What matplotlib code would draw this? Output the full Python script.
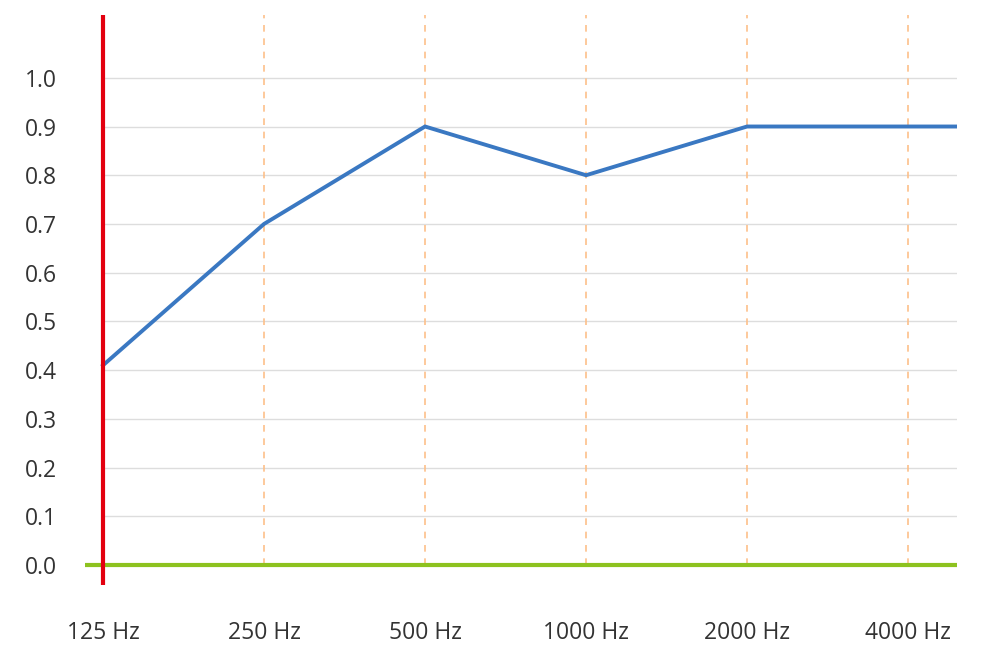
import matplotlib.pyplot as plt

freqs = ['125 Hz', '250 Hz', '500 Hz', '1000 Hz', '2000 Hz', '4000 Hz']
alpha = [0.41, 0.70, 0.90, 0.80, 0.90, 0.90]
yticks = [0.0, 0.1, 0.2, 0.3, 0.4, 0.5, 0.6, 0.7, 0.8, 0.9, 1.0]

plt.rcParams['font.family'] = ['Open Sans', 'DejaVu Sans']

fig = plt.figure(figsize=(10, 6.66), dpi=100)
ax = fig.add_axes([0.085, 0.1216, 0.872, 0.856])

xmin, xmax = -0.112, 5.304
ymin, ymax = -0.041, 1.129
ax.set_xlim(xmin, xmax)
ax.set_ylim(ymin, ymax)

xs = list(range(len(freqs)))

# horizontal grid, starts at first category
ax.hlines(yticks[1:], 0, xmax, color='#dddddd', linewidth=1, zorder=1)
# dashed verticals at the other categories
ax.vlines(xs[1:], 0, ymax, color='#fdc08a', linewidth=1.2, linestyles=(0, (4, 4)), zorder=1)

# value line, carried flat to the right edge
ax.plot(xs + [xmax], alpha + [alpha[-1]], color='#3a78c2', linewidth=2.8,
        solid_joinstyle='miter', zorder=3)

# axis lines
ax.axhline(0, color='#8dc21f', linewidth=3, zorder=4)
ax.axvline(0, color='#e3000f', linewidth=3, zorder=5)

for s in ax.spines.values():
    s.set_visible(False)
ax.set_xticks(xs)
ax.set_xticklabels(freqs)
ax.set_yticks(yticks)
ax.set_yticklabels([f'{v:.1f}' for v in yticks])
ax.tick_params(length=0, labelsize=16.5, colors='#333333')
ax.tick_params(axis='x', pad=26)
ax.tick_params(axis='y', pad=20)

fig.savefig('out.png', dpi=100)
